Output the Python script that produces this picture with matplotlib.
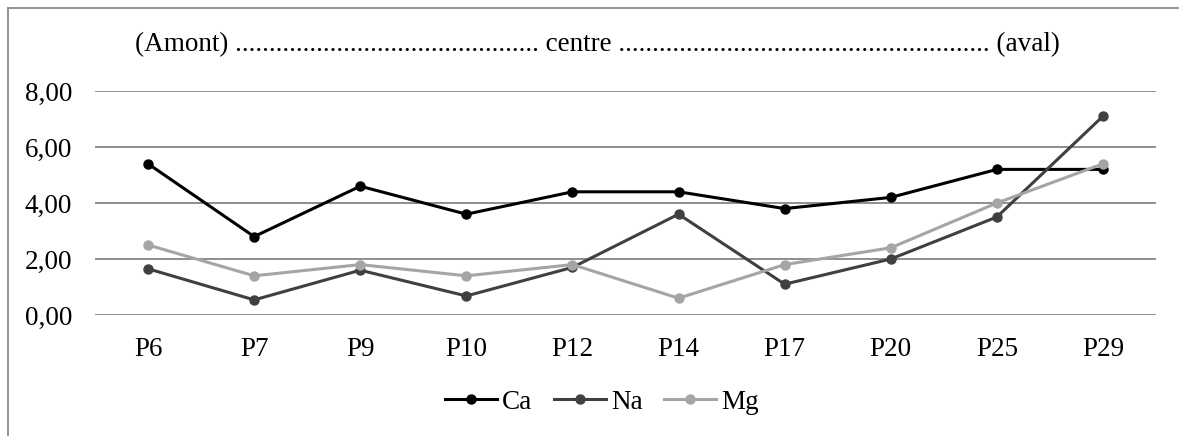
import matplotlib
matplotlib.use("Agg")
import matplotlib.pyplot as plt
from matplotlib.lines import Line2D

categories = ["P6", "P7", "P9", "P10", "P12", "P14", "P17", "P20", "P25", "P29"]
ca = [5.4, 2.8, 4.6, 3.6, 4.4, 4.4, 3.8, 4.2, 5.2, 5.2]
na = [1.65, 0.54, 1.6, 0.68, 1.7, 3.6, 1.1, 2.0, 3.5, 7.1]
mg = [2.5, 1.4, 1.8, 1.4, 1.8, 0.6, 1.8, 2.4, 4.0, 5.4]
yticks = [0, 2, 4, 6, 8]
ytick_labels = ["0,00", "2,00", "4,00", "6,00", "8,00"]
series_names = ["Ca", "Na", "Mg"]
colors = ["#000000", "#404040", "#a5a5a5"]

plt.rcParams['font.family'] = ['Liberation Serif', 'DejaVu Serif']
FS = 19.5

W, H = 1179, 436
fig = plt.figure(figsize=(W / 100, H / 100), dpi=100)

# axes: x 95..1156, y 91..315 (px)
ax = fig.add_axes([95 / W, 1 - 315 / H, (1156 - 95) / W, (315 - 91) / H])
x = list(range(len(categories)))
for vals, name, col in zip([ca, na, mg], series_names, colors):
    ax.plot(x, vals, color=col, lw=2.2, marker='o', markersize=6.5, label=name,
            clip_on=False, zorder=3)

ax.set_xlim(-0.5, len(categories) - 0.5)
ax.set_ylim(0, 8)
ax.set_yticks(yticks)
ax.set_yticklabels(ytick_labels, fontsize=FS)
ax.set_xticks(x)
ax.set_xticklabels(categories, fontsize=FS)
ax.tick_params(axis='both', length=0)
ax.tick_params(axis='y', pad=16.5)
ax.tick_params(axis='x', pad=15.5)
ax.yaxis.grid(True, color='#868686', lw=1.3)
ax.set_axisbelow(True)
for s in ax.spines.values():
    s.set_visible(False)

# header text
txt = "(Amont) " + "." * 45 + " centre " + "." * 55 + " (aval)"
fig.text(597 / W, 1 - 45 / H, txt, ha='center', va='center', fontsize=FS)

# legend
leg = fig.legend(loc='center', bbox_to_anchor=(602 / W, 1 - 402 / H), ncol=3,
                 frameon=False, fontsize=FS, handlelength=1.9, handletextpad=0.2,
                 columnspacing=0.8, markerscale=1.0)

# outer border (top and left)
fig.add_artist(Line2D([8 / W, 8 / W], [0, 1 - 8 / H], color='#8a8a8a', lw=1.3,
                      transform=fig.transFigure))
fig.add_artist(Line2D([8 / W, 1], [1 - 8 / H, 1 - 8 / H], color='#8a8a8a', lw=1.3,
                      transform=fig.transFigure))

fig.savefig("out.png", dpi=100)
